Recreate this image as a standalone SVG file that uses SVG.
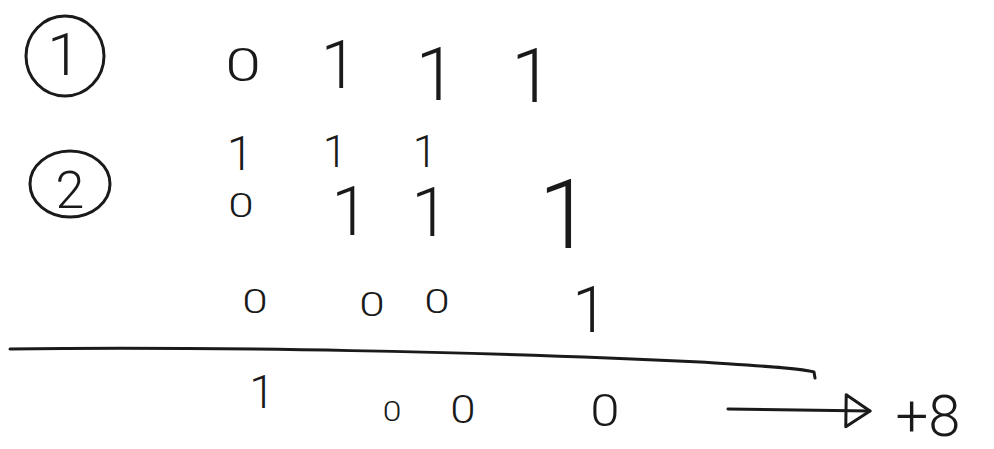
<svg xmlns="http://www.w3.org/2000/svg" width="994" height="449" viewBox="0 0 994 449">
<style>
.t{font-family:Roboto,"Liberation Sans","DejaVu Sans",sans-serif;font-weight:300;fill:#1a1a1a;text-anchor:middle}
.s{fill:none;stroke:#1a1a1a;stroke-width:3;stroke-linecap:round;stroke-linejoin:round}
</style>
<defs>
<marker id="ah" viewBox="0 0 30 40" refX="28" refY="20" markerWidth="30" markerHeight="40" markerUnits="userSpaceOnUse" orient="auto">
<path d="M4,4 L28,20 L4,36 Z" fill="none" stroke="#1a1a1a" stroke-width="3" stroke-linejoin="round"/>
</marker>
</defs>
<rect width="994" height="449" fill="#ffffff"/>
<g id="label1">
<ellipse class="s" cx="65" cy="56" rx="39" ry="40"/>
<text class="t" x="64" y="75" font-size="60">1</text>
</g>
<g id="label2">
<ellipse class="s" cx="70" cy="184" rx="40" ry="33"/>
<text class="t" x="70" y="208" font-size="52">2</text>
</g>
<g id="row1">
<text class="t" transform="translate(243,81) scale(1.4,1)" font-size="46">0</text>
<text class="t" x="339" y="88" font-size="66">1</text>
<text class="t" x="436" y="100" font-size="74">1</text>
<text class="t" x="532" y="102" font-size="76">1</text>
</g>
<g id="carry">
<text class="t" x="240" y="170" font-size="48">1</text>
<text class="t" x="335" y="167" font-size="44">1</text>
<text class="t" x="425" y="167" font-size="44">1</text>
</g>
<g id="row2">
<text class="t" transform="translate(241,217) scale(1.35,1)" font-size="34">0</text>
<text class="t" x="350" y="235" font-size="68">1</text>
<text class="t" x="430" y="236" font-size="68">1</text>
<text class="t" x="565" y="248" font-size="96">1</text>
</g>
<g id="row3">
<text class="t" transform="translate(255,313) scale(1.35,1)" font-size="34">0</text>
<text class="t" transform="translate(372,316) scale(1.35,1)" font-size="34">0</text>
<text class="t" transform="translate(437,313) scale(1.35,1)" font-size="34">0</text>
<text class="t" x="590" y="332" font-size="64">1</text>
</g>
<path id="sumline" class="s" d="M10,349 C200,346 500,352 700,362 C760,366 800,368 814,372 L815,378"/>
<g id="result">
<text class="t" x="262" y="408" font-size="46">1</text>
<text class="t" transform="translate(392,421) scale(1.2,1)" font-size="28">0</text>
<text class="t" transform="translate(463,423) scale(1.2,1)" font-size="38">0</text>
<text class="t" transform="translate(605,426) scale(1.2,1)" font-size="44">0</text>
</g>
<g id="connectors">
<path class="s" d="M728,409 L870,411" marker-end="url(#ah)"/>
</g>
<g id="value">
<text class="t" x="928" y="436" font-size="58">+8</text>
</g>
</svg>
